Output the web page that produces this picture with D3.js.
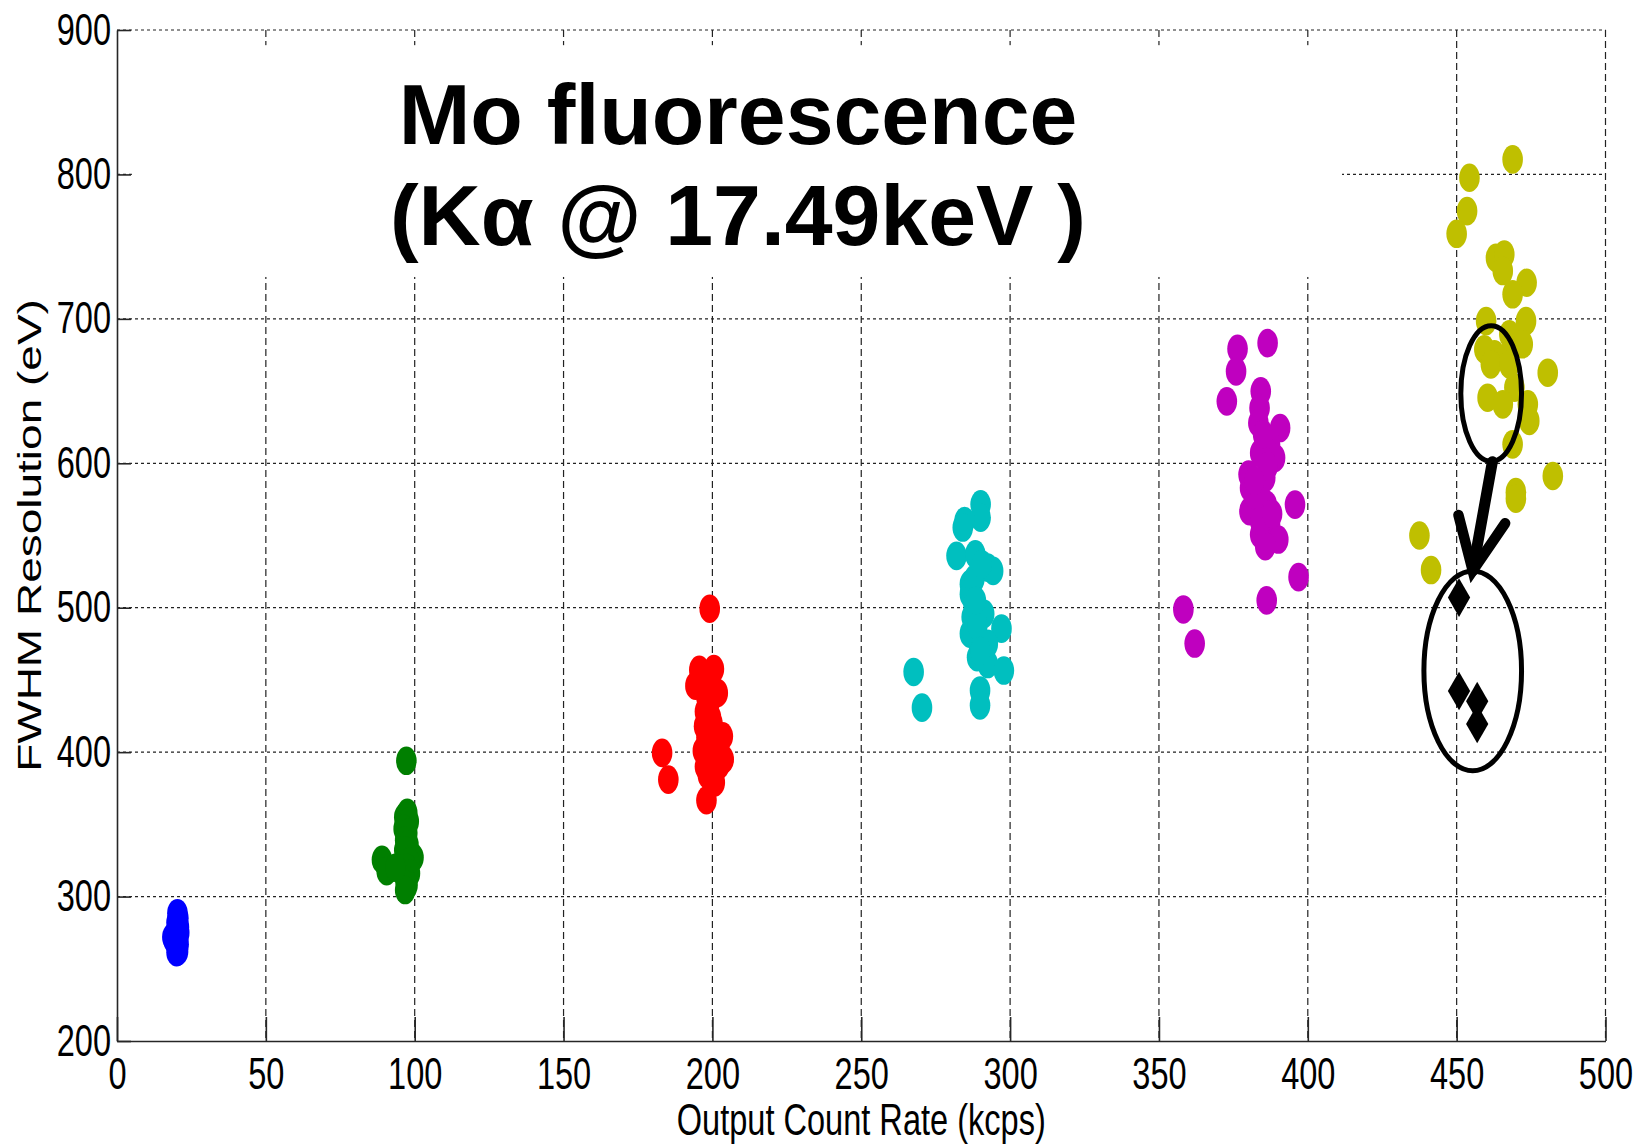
<!DOCTYPE html>
<html>
<head>
<meta charset="utf-8">
<script src="https://cdn.jsdelivr.net/npm/d3@7"></script>
<style>
  body { margin: 0; background: #fff; }
  svg { display: block; }
</style>
</head>
<body>
<svg id="chart" width="1646" height="1148"></svg>
<script>
// values: [output count rate (kcps), FWHM (eV)]
const blueDots = [[20.3,288.5],[20.6,285],[20.0,282],[20.8,279],[20.3,280],[20.2,276],[20.9,275],
  [19.4,273.5],[18.6,272],[20.5,271],[19.0,270],[19.8,268],[20.7,267],[20.1,265],[20.5,262],[20.0,261.5]];
const greenDots = [[97.2,394],[97.5,358],[96.5,355],[98,352],[96.3,347],[97.5,344],[96.8,339],[97.9,336],
  [96.5,332],[99.6,327],[98.2,324],[97.3,320],[98.4,316],[96.8,312],[97.6,308],[96.8,304.5],
  [89,325.5],[90.6,317.6],[93.5,320]];
const redDots = [[199.1,499.3],[183.1,399.5],[185.2,381],[195.6,457],[200.5,457.5],[194.3,446],[197.3,452],
  [201.8,441],[199.3,436],[198.2,432],[197.5,428],[199.5,424],[197.2,418],[200.5,414],[203.5,411],
  [201.5,405],[203.8,395],[196.8,401],[199.5,398],[202.3,391],[197.5,390],[198.5,384],[200.8,379],[198,366.7],
  [199,445],[200,420],[198,410],[201,400],[199.5,392],[198,438]];
const cyanDots = [[267.6,455.5],[270.4,430.8],[290.1,571.6],[290.1,562.4],[284.7,560],[284.1,555.5],[282,535.9],
  [288.3,537],[292.5,527.8],[294.3,525.5],[286.5,516.3],[286.5,509.4],[287.7,502.8],[291.3,495.8],
  [287.1,493.5],[297.1,485.5],[286.5,482],[289.5,475],[292.5,475],[288.9,465.7],[292.5,461],
  [297.9,456.5],[289.9,442.7],[289.9,432.4],[288,520],[289,488],[290,470],[288.5,505],[290.5,530]];
const magentaDots = [[376.4,679.3],[386.5,683.2],[375.9,663.6],[372.8,642.9],[384.2,649.8],[383.8,638.2],
  [383.4,627.9],[390.7,624.4],[387.3,612.9],[389,603.7],[384,607.1],[380.1,592.2],[385.7,589.9],
  [380.6,583],[386.2,571.4],[395.7,571.4],[380.4,566.8],[387.3,557.6],[384,550.7],[390.1,547.2],
  [385.7,542.6],[396.9,521.2],[386.2,505.1],[358.2,498.8],[362,475.2],
  [385,620],[386.5,598],[382,578],[384,560],[388,565],[382,588]];
const yellowDots = [[468.8,810.4],[454.3,797.7],[453.5,774.6],[450,758.9],[463.2,742.3],[466,744.6],
  [465.5,733.1],[473.5,725],[468.8,717],[459.9,698.5],[473.3,698.5],[467.7,689.3],[472.2,682.4],
  [459.3,678.9],[462.7,675.4],[466.6,673.1],[461.5,668.5],[467.7,668.5],[480.6,662.7],[469.4,652.4],
  [460.4,645.4],[465.5,640.8],[473.9,640.8],[474.4,629.3],[468.8,613.1],[482.3,591.2],[469.9,580],
  [469.9,575.5],[437.5,550],[441.4,526.1]];
const blackDiamonds = [[450.8,507],[450.8,442.3],[456.9,435.3],[456.9,419.5]];

const dotSeries = [blueDots, greenDots, redDots, cyanDots, magentaDots, yellowDots];
const seriesColors = ['#0000ff', '#007f00', '#ff0000', '#00bfbf', '#bf00bf', '#bfbf00'];

const xTicks = [0, 50, 100, 150, 200, 250, 300, 350, 400, 450, 500];
const yTicks = [200, 300, 400, 500, 600, 700, 800, 900];

const titleLines = ['Mo fluorescence', '(K\u03b1 @ 17.49keV )'];
const xLabel = 'Output Count Rate (kcps)';
const yLabel = 'FWHM Resolution (eV)';

// hand-drawn annotation, in data units
const upperRing = { cx: 461.6, cy: 648.3, rx: 10.2, ry: 47 };
const lowerRing = { cx: 455.4, cy: 456.3, rx: 16.4, ry: 69.2 };
const arrowShaft = [[462.0, 601.1], [455.4, 525.6]];
const arrowHead = [[450.6, 564.2], [455.4, 525.6], [466.3, 558.5]];
const titleBox = { x0: 5, x1: 411.5, y0: 889.5, y1: 729 };

// ---------------------------------------------------------------

const font = '"Liberation Sans", Arial, Helvetica, sans-serif';
const squeeze = 0.74;   // the original figure was squashed horizontally
const axisColor = '#262626';

const svg = d3.select('#chart')
    .attr('font-family', font);

svg.append('rect')
    .attr('width', 1646)
    .attr('height', 1148)
    .attr('fill', '#fff');

const x = d3.scaleLinear().domain([0, 500]).range([117, 1605.5]);
const y = d3.scaleLinear().domain([200, 900]).range([1041, 30]);

// grid

const grid = svg.append('g')
    .attr('stroke', '#222')
    .attr('stroke-width', 1.2)
    .attr('fill', 'none');

grid.selectAll('.hgrid')
  .data(yTicks.slice(1))
  .join('line')
    .attr('class', 'hgrid')
    .attr('x1', x(0))
    .attr('x2', x(500))
    .attr('y1', d => y(d))
    .attr('y2', d => y(d))
    .attr('stroke-dasharray', '3,3');

grid.selectAll('.vgrid')
  .data(xTicks.slice(1))
  .join('line')
    .attr('class', 'vgrid')
    .attr('x1', d => x(d))
    .attr('x2', d => x(d))
    .attr('y1', y(900))
    .attr('y2', y(200))
    .attr('stroke-dasharray', '7,4');

// white box pasted over the grid behind the title
svg.append('rect')
    .attr('x', x(titleBox.x0))
    .attr('y', y(titleBox.y0))
    .attr('width', x(titleBox.x1) - x(titleBox.x0))
    .attr('height', y(titleBox.y1) - y(titleBox.y0))
    .attr('fill', '#fff');

// axes

const xAxis = d3.axisBottom(x)
    .tickValues(xTicks)
    .tickFormat(d3.format('d'))
    .tickSizeInner(-24)
    .tickSizeOuter(0)
    .tickPadding(17);

const yAxis = d3.axisLeft(y)
    .tickValues(yTicks)
    .tickFormat(d3.format('d'))
    .tickSizeInner(-14)
    .tickSizeOuter(0)
    .tickPadding(6);

function styleAxis(g) {
  g.attr('font-family', font)
    .attr('font-size', 44)
    .attr('color', axisColor);
  g.selectAll('path, line').attr('stroke-width', 1.6);
  g.selectAll('text').attr('fill', '#000');
}

svg.append('g')
    .attr('transform', `translate(0,${y(200)})`)
    .call(xAxis)
    .call(styleAxis)
    .call(g => g.selectAll('text')
        .attr('transform', `scale(${squeeze},1)`));

svg.append('g')
    .attr('transform', `translate(${x(0)},0)`)
    .call(yAxis)
    .call(styleAxis)
    .call(g => g.selectAll('text')
        .attr('x', 0)
        .attr('transform', `translate(-6,0) scale(${squeeze},1)`));

// axis labels

svg.append('text')
    .attr('transform', `translate(${x(250)},1135) scale(${squeeze},1)`)
    .attr('text-anchor', 'middle')
    .attr('font-size', 44)
    .text(xLabel);

svg.append('text')
    .attr('transform', `translate(41,${y(550)}) rotate(-90) scale(1,${squeeze})`)
    .attr('text-anchor', 'middle')
    .attr('font-size', 46)
    .text(yLabel);

// data

const dots = svg.append('g');

dots.selectAll('g')
  .data(dotSeries)
  .join('g')
    .attr('fill', (d, i) => seriesColors[i])
  .selectAll('ellipse')
  .data(d => d)
  .join('ellipse')
    .attr('cx', d => x(d[0]))
    .attr('cy', d => y(d[1]))
    .attr('rx', 10.3)
    .attr('ry', 14.3);

const diamond = d3.symbol().type(d3.symbolDiamond).size(430);

svg.append('g')
  .selectAll('path')
  .data(blackDiamonds)
  .join('path')
    .attr('transform', d => `translate(${x(d[0])},${y(d[1])})`)
    .attr('d', diamond)
    .attr('fill', '#000');

// annotation

const notes = svg.append('g')
    .attr('fill', 'none')
    .attr('stroke', '#000');

notes.selectAll('ellipse')
  .data([upperRing, lowerRing])
  .join('ellipse')
    .attr('cx', d => x(d.cx))
    .attr('cy', d => y(d.cy))
    .attr('rx', d => x(d.cx + d.rx) - x(d.cx))
    .attr('ry', d => y(d.cy - d.ry) - y(d.cy))
    .attr('stroke-width', 5);

const line = d3.line().x(d => x(d[0])).y(d => y(d[1]));

notes.append('path')
    .attr('d', line(arrowShaft))
    .attr('stroke-width', 11)
    .attr('stroke-linecap', 'round');

notes.append('path')
    .attr('d', line(arrowHead))
    .attr('stroke-width', 10.5)
    .attr('stroke-linecap', 'round')
    .attr('stroke-linejoin', 'miter');

// title

svg.append('g')
    .attr('font-size', 86)
    .attr('font-weight', 'bold')
    .attr('text-anchor', 'middle')
  .selectAll('text')
  .data(titleLines)
  .join('text')
    .attr('x', 738)
    .attr('y', (d, i) => 144 + i * 101)
    .text(d => d);
</script>
</body>
</html>
